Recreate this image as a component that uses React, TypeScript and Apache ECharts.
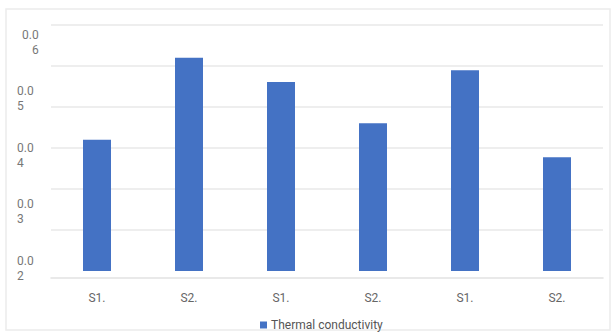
import React, { useEffect, useRef } from "react";
import * as echarts from "echarts";

const categories = ["S1.", "S2.", "S1.", "S2.", "S1.", "S2."];
const conductivity = [0.0427, 0.0572, 0.0529, 0.0456, 0.055, 0.0396];
const yTicks = [0.02, 0.03, 0.04, 0.05, 0.06];
const seriesName = "Thermal conductivity";

export default function App() {
  const ref = useRef<HTMLDivElement>(null);
  useEffect(() => {
    if (!ref.current) return;
    const chart = echarts.init(ref.current, null, { renderer: "svg" });
    chart.setOption({
      animation: false,
      backgroundColor: "#ffffff",
      textStyle: { fontFamily: "Roboto" },
      graphic: [
        {
          type: "rect",
          shape: { x: 6, y: 9, width: 604, height: 321 },
          style: { fill: "none", stroke: "#ececec", lineWidth: 1.5 },
          silent: true,
          z: -10,
        },
      ],
      grid: [
        { left: 51, right: 10, top: 25, bottom: 64 },
        { left: 51, right: 10, top: 25, bottom: 105 },
      ],
      legend: {
        data: [seriesName],
        left: 255,
        top: 314,
        icon: "rect",
        itemWidth: 7,
        itemHeight: 7,
        itemGap: 10,
        itemStyle: { borderWidth: 0 },
        textStyle: { color: "#555", fontSize: 12, fontFamily: "Roboto", padding: [0, 0, 0, -1] },
      },
      xAxis: [
        {
          type: "category",
          gridIndex: 0,
          data: categories,
          offset: 7,
          axisLine: { show: true, lineStyle: { color: "#e2e2e2", width: 1.5 } },
          axisTick: { show: false },
          axisLabel: { color: "#666", fontSize: 12, margin: 14, fontFamily: "Roboto" },
        },
        { type: "category", gridIndex: 1, data: categories, show: false },
      ],
      yAxis: [
        {
          type: "value",
          gridIndex: 0,
          min: 0.01947,
          max: 0.06301,
          splitLine: { show: false },
          axisLine: { show: false },
          axisTick: { show: false },
          axisLabel: {
            customValues: yTicks,
            align: "left",
            margin: 34,
            color: "#777",
            fontSize: 12,
            lineHeight: 15,
            fontFamily: "Roboto",
            formatter: (v: number) => {
              const s = v.toFixed(2);
              const head = s.slice(0, 3);
              const tail = s.slice(3);
              if (v > 0.055) return "{r|" + head + "}\n{s|" + tail + "}";
              return head + "\n" + tail;
            },
            rich: {
              r: { color: "#777", fontSize: 12, lineHeight: 15, fontFamily: "Roboto", padding: [0, 0, 0, 5] },
              s: { color: "#777", fontSize: 12, lineHeight: 15, fontFamily: "Roboto", align: "right", width: 21 },
            },
          },
        },
        {
          type: "value",
          gridIndex: 1,
          min: 0,
          max: 5,
          interval: 1,
          axisLabel: { show: false },
          axisLine: { show: false },
          axisTick: { show: false },
          splitLine: { show: true, lineStyle: { color: "#e8e8e8", width: 1.5 } },
        },
      ],
      series: [
        {
          name: seriesName,
          type: "bar",
          xAxisIndex: 0,
          yAxisIndex: 0,
          data: conductivity,
          barWidth: 28,
          itemStyle: { color: "#4472c4" },
        },
      ],
    });
    return () => chart.dispose();
  }, []);
  return (
    <div
      ref={ref}
      style={{ position: "fixed", left: 0, top: 0, width: 613, height: 335, background: "#fff" }}
    />
  );
}
